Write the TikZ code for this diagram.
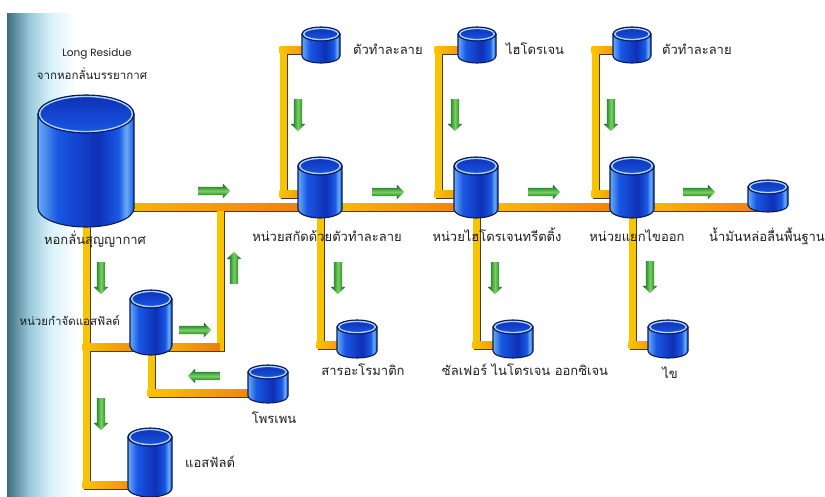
\documentclass[tikz,border=0pt]{standalone}
\usepackage{fontspec}
\setmainfont{Loma}[Script=Thai]
\newfontfamily\engfont{Poppins}
\usetikzlibrary{positioning,shapes.arrows}

\definecolor{pipeyellow}{RGB}{248,196,0}
\definecolor{pipeorange}{RGB}{240,122,18}
\definecolor{pipeshadow}{RGB}{70,58,40}
\definecolor{drumedge}{RGB}{10,25,90}
\definecolor{drumblue}{RGB}{25,88,228}
\definecolor{drumdeep}{RGB}{14,48,182}
\definecolor{drumlight}{RGB}{105,172,245}
\definecolor{drumrim}{RGB}{168,212,250}
\definecolor{arrowdark}{RGB}{0,85,18}
\definecolor{arrowlight}{RGB}{120,212,95}
\definecolor{stripdark}{RGB}{62,108,126}
\definecolor{stripmid}{RGB}{150,200,215}
\definecolor{striplight}{RGB}{215,242,250}
\definecolor{labelgrey}{RGB}{30,30,30}

% shadings: the path spans 25bp..75bp
\pgfdeclarehorizontalshading{drumbody}{100bp}{color(0bp)=(drumlight); color(25bp)=(drumlight); color(35bp)=(drumblue); color(56bp)=(drumdeep); color(67bp)=(drumblue); color(71bp)=(drumlight); color(75bp)=(drumblue); color(100bp)=(drumblue)}
\pgfdeclarehorizontalshading{stripfade}{100bp}{color(0bp)=(stripdark); color(25bp)=(stripdark); color(40bp)=(stripmid); color(55bp)=(striplight); color(72bp)=(white); color(100bp)=(white)}

\pgfdeclarelayer{back}
\pgfdeclarelayer{pipes}
\pgfsetlayers{back,pipes,main}

% drum: name, x, y of top ellipse, x radius, body length, y radius
\newcommand{\drum}[6]{%
  \node[drumbox, minimum width=2*#4pt, minimum height=#5pt+2*#6pt, anchor=north] (#1) at (#2,#3+#6) {};
  \shade[shading=drumbody, draw=drumedge, line width=1.1pt]
    (#2-#4,#3) -- ++(0,-#5) arc[start angle=180, end angle=360, x radius=#4pt, y radius=#6pt] -- ++(0,#5) -- cycle;
  \shade[top color=drumdeep, bottom color=drumblue] (#2,#3) ellipse[x radius=#4pt, y radius=#6pt];
  \draw[drumrim, line width=1.5pt] (#2,#3) ellipse[x radius=#4pt-1.6pt, y radius=#6pt-1.4pt];
  \draw[drumedge, line width=1.1pt] (#2,#3) ellipse[x radius=#4pt, y radius=#6pt];
}

% yellow-to-orange skin over a horizontal pipe run
\newcommand{\hpipe}[2]{%
  \path #1 coordinate (hp-l) #2 coordinate (hp-r);
  \shade[left color=pipeyellow, right color=pipeorange] ([shift={(-3.5pt,-3.5pt)}]hp-l) rectangle ([yshift=3.5pt]hp-r);
}

\begin{document}
\begin{tikzpicture}[
  x=1pt, y=1pt,
  drumbox/.style={rectangle, inner sep=0pt, outer sep=0pt},
  pipe/.style={line width=7pt, draw=pipeyellow, line join=miter,
    preaction={draw=pipeshadow, line width=7pt, transform canvas={shift={(1.4pt,-1.4pt)}}}},
  flow/.style={single arrow, single arrow head extend=3pt, minimum height=32pt, inner sep=4pt, outer sep=0pt},
  flowh/.style={flow, top color=arrowdark, bottom color=arrowdark, middle color=arrowlight},
  flowv/.style={flow, left color=arrowdark, right color=arrowdark, middle color=arrowlight},
  lbl/.style={font=\fontsize{13}{15}\selectfont, text=labelgrey, inner sep=0pt, text height=9pt, text depth=3pt},
  small/.style={font=\fontsize{11.5}{14}\selectfont}
]
\useasboundingbox (0,0) rectangle (825,-497);
\begin{pgfonlayer}{back}
  \fill[white] (0,0) rectangle (825,-497);
  \shade[shading=stripfade] (7,-14) rectangle (80,-497);
\end{pgfonlayer}

% tanks
\drum{vacuum}{86}{-114}{48}{94}{19}
\drum{deasph}{151}{-299}{21}{47}{9}
\drum{propane}{268}{-372}{20}{24}{7}
\drum{asphalt}{150}{-437}{22}{51}{9}
\drum{extract}{320}{-166}{22}{43}{9}
\drum{hydro}{476}{-166}{22}{43}{9}
\drum{dewax}{632}{-166}{22}{43}{9}
\drum{solvA}{321}{-34}{19}{22}{7}
\drum{hydrogen}{477}{-34}{19}{22}{7}
\drum{solvB}{632}{-34}{19}{22}{7}
\drum{arom}{357}{-327}{20}{24}{7}
\drum{sulfur}{513}{-327}{20}{24}{7}
\drum{wax}{668}{-327}{20}{24}{7}
\drum{base}{768}{-187}{20}{18}{7}

% pipe levels and bends
\coordinate (mainlvl) at (0,-207);
\coordinate (feedlvl) at (0,-50);
\coordinate (intolvl) at (0,-194);
\coordinate (prodlvl) at (0,-345);
\coordinate (splitlvl) at (0,-347);
\coordinate (proplvl) at (0,-393);
\coordinate (asphlvl) at (0,-485);
\coordinate (riser) at (220,0);
\coordinate (kA) at (283,0);
\coordinate (kB) at (438,0);
\coordinate (kC) at (595,0);

\begin{pgfonlayer}{pipes}
\draw[pipe]
  (vacuum.center |- mainlvl) -- (base.center |- mainlvl)
  (vacuum.center) |- (asphalt.center |- asphlvl)
  (vacuum.center |- splitlvl) -- (deasph.center |- splitlvl) -| (riser |- mainlvl)
  (deasph.center) |- (propane.center |- proplvl)
  foreach \u/\f/\o/\k in {extract/solvA/arom/kA, hydro/hydrogen/sulfur/kB, dewax/solvB/wax/kC} {
    (\f.center |- feedlvl) -| (\k |- intolvl) -- (\u.center |- intolvl)
    (\u.center) |- (\o.center |- prodlvl)
  };
\hpipe{(vacuum.center |- mainlvl)}{(extract.center |- mainlvl)}
\hpipe{(extract.center |- mainlvl)}{(hydro.center |- mainlvl)}
\hpipe{(hydro.center |- mainlvl)}{(dewax.center |- mainlvl)}
\hpipe{(dewax.center |- mainlvl)}{(base.center |- mainlvl)}
\hpipe{(vacuum.center |- splitlvl)}{(deasph.center |- splitlvl)}
\hpipe{(deasph.center |- splitlvl)}{(riser |- splitlvl)}
\hpipe{(deasph.center |- proplvl)}{(propane.center |- proplvl)}
\hpipe{(vacuum.center |- asphlvl)}{(asphalt.center |- asphlvl)}
\foreach \u/\f/\o/\k in {extract/solvA/arom/kA, hydro/hydrogen/sulfur/kB, dewax/solvB/wax/kC} {
  \hpipe{(\k |- feedlvl)}{(\f.center |- feedlvl)}
  \hpipe{(\k |- intolvl)}{(\u.center |- intolvl)}
  \hpipe{(\u.center |- prodlvl)}{(\o.center |- prodlvl)}
}
\end{pgfonlayer}

% flow arrows
\foreach \p [count=\i] in {(212,-191),(386,-192),(542,-192),(697,-192),(193,-330)}
  \node[flowh] (right\i) at \p {};
\node[flowh, shape border rotate=180] (left1) at (206,-376) {};
\node[flowv, shape border rotate=90] (up1) at (234,-270) {};
\foreach \p [count=\i] in {(101,-276),(101,-412),(298,-113),(455,-113),(611,-113),(338,-276),(495,-276),(650,-275)}
  \node[flowv, shape border rotate=270] (down\i) at \p {};

% labels
\node[lbl, small, above=12pt of vacuum, xshift=6pt] (vacfrom) {จากหอกลั่นบรรยากาศ};
\node[lbl, above=11pt of vacfrom, xshift=5pt, font=\engfont\fontsize{10.5}{12}\selectfont] (vacfeed) {Long Residue};
\node[lbl, below=8pt of vacuum, xshift=9pt] (vaclbl) {หอกลั่นสุญญากาศ};
\node[lbl, small, left=10pt of deasph] (deasphlbl) {หน่วยกำจัดแอสฟัลต์};
\node[lbl, below=11pt of propane, xshift=6pt] (propanelbl) {โพรเพน};
\node[lbl, right=13pt of asphalt, yshift=-2pt] (asphaltlbl) {แอสฟัลต์};
\node[lbl, right=13pt of solvA, yshift=-7pt] (solvAlbl) {ตัวทำละลาย};
\node[lbl, right=10pt of hydrogen, yshift=-7pt] (hydrogenlbl) {ไฮโดรเจน};
\node[lbl, right=11pt of solvB, yshift=-7pt] (solvBlbl) {ตัวทำละลาย};
\node[lbl, below=14pt of extract, xshift=7pt] (extractlbl) {หน่วยสกัดด้วยตัวทำละลาย};
\node[lbl, below=14pt of hydro, xshift=21pt] (hydrolbl) {หน่วยไฮโดรเจนทรีตติ้ง};
\node[lbl, below=14pt of dewax, xshift=5pt] (dewaxlbl) {หน่วยแยกไขออก};
\node[lbl, below=20pt of base, xshift=-1pt] (baselbl) {น้ำมันหล่อลื่นพื้นฐาน};
\node[lbl, below=8pt of arom, xshift=6pt] (aromlbl) {สารอะโรมาติก};
\node[lbl, below=8pt of sulfur, xshift=12pt] (sulfurlbl) {ซัลเฟอร์ ไนโตรเจน ออกซิเจน};
\node[lbl, below=11pt of wax, xshift=2pt] (waxlbl) {ไข};
\end{tikzpicture}
\end{document}
